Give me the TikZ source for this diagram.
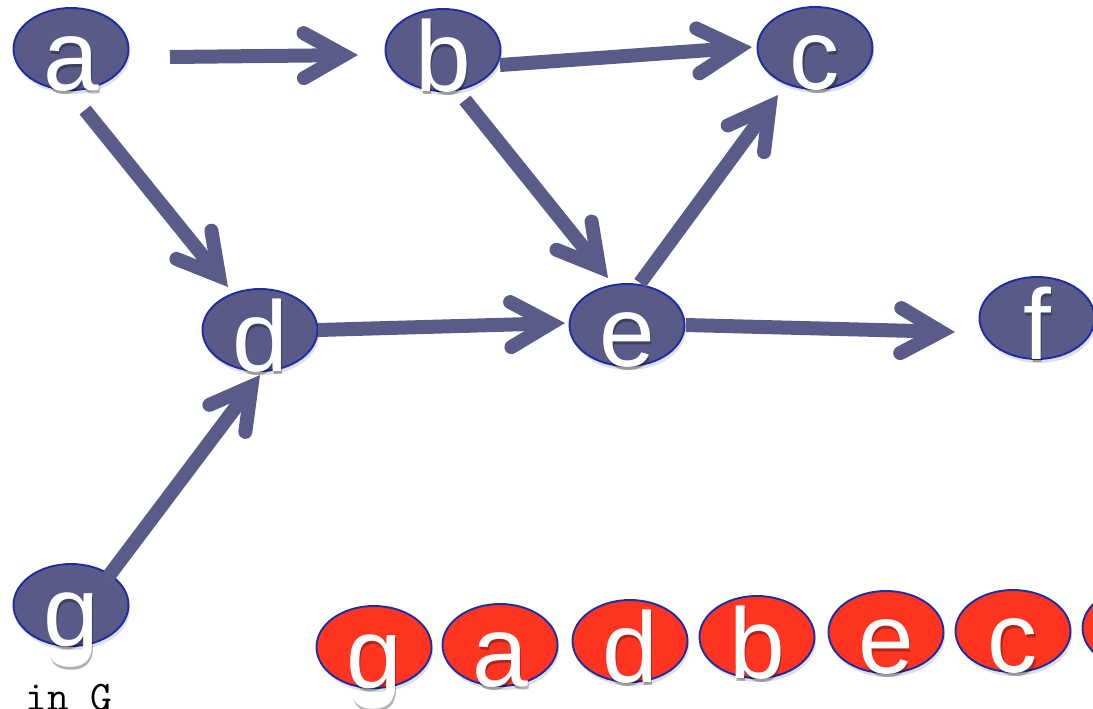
\documentclass[tikz,border=0pt]{standalone}
\usepackage{fontspec}
\setmainfont{Liberation Sans}
\usepackage{tikz}
\usetikzlibrary{arrows.meta,shapes.geometric,shadows}
\definecolor{vtxblue}{HTML}{5A5A88}
\definecolor{rimblue}{HTML}{1C2DA6}
\definecolor{ordred}{HTML}{FF3522}
\definecolor{arrblue}{HTML}{5B5B8A}

\begin{document}
\begin{tikzpicture}[
  vx/.style={ellipse,draw=rimblue,line width=1.1pt,fill=vtxblue,minimum width=2.3cm,minimum height=1.64cm,inner sep=0pt,
    drop shadow={opacity=0.25,shadow xshift=0.03cm,shadow yshift=-0.08cm}},
  ov/.style={vx,fill=ordred},
  lt/.style={anchor=base,text=white,inner sep=0pt,font=\fontsize{57}{57}\selectfont},
  lsh/.style={lt,text=black,opacity=0.3},
  ar/.style={draw=arrblue,line width=0.28cm,-{Straight Barb[length=0.8cm,width=0.9cm,line cap=round,line join=miter]}}]
 \useasboundingbox (0,0) rectangle (21.86,-14.16);
 \clip (0,0) rectangle (21.86,-14.16);
 \node[vx] (a) at (1.42,-0.98) {};
 \node[vx] (b) at (8.86,-1.00) {};
 \node[vx] (c) at (16.30,-0.96) {};
 \node[vx] (d) at (5.20,-6.60) {};
 \node[vx] (e) at (12.54,-6.50) {};
 \node[vx] (f) at (20.74,-6.36) {};
 \node[vx] (g) at (1.42,-12.10) {};
 \node[ov] (og) at (7.48,-12.94) {};
 \node[ov] (oa) at (10.00,-12.90) {};
 \node[ov] (od) at (12.60,-12.82) {};
 \node[ov] (ob) at (15.14,-12.74) {};
 \node[ov] (oe) at (17.72,-12.64) {};
 \node[ov] (oc) at (20.26,-12.62) {};
 \node[ov] (of) at (22.80,-12.56) {};
 \foreach \s/\sx/\sy/\t/\tx/\ty in {a/1.98/-0.16/b/-1.70/-0.10, b/1.14/-0.30/c/-1.26/0.02,
     a/0.28/-1.22/d/-0.64/0.86, b/0.44/-1.00/e/-0.38/0.94, e/0.26/0.84/c/-0.74/-0.94,
     d/1.16/0/e/-1.24/0.04, e/1.18/0/f/-1.64/-0.28, g/0.74/0.56/d/0/-0.90}
   \draw[ar] ([shift={(\sx,\sy)}]\s.center) -- ([shift={(\tx,\ty)}]\t.center);
 \foreach \n in {a,b,c,d,e,f,g}{
   \node[lsh] (\n-s) at ([xshift=0.03cm,yshift=-0.88cm]\n.center) {\n};
   \node[lt] (\n-l) at ([yshift=-0.82cm]\n.center) {\n};
   \node[lsh] (o\n-s) at ([xshift=0.03cm,yshift=-0.88cm]o\n.center) {\n};
   \node[lt] (o\n-l) at ([yshift=-0.82cm]o\n.center) {\n};
 }
 \node[anchor=base west,inner sep=0pt,font=\ttfamily\fontsize{24}{24}\selectfont] (cap) at (0.5,-14.2) {in G};
\end{tikzpicture}
\end{document}
